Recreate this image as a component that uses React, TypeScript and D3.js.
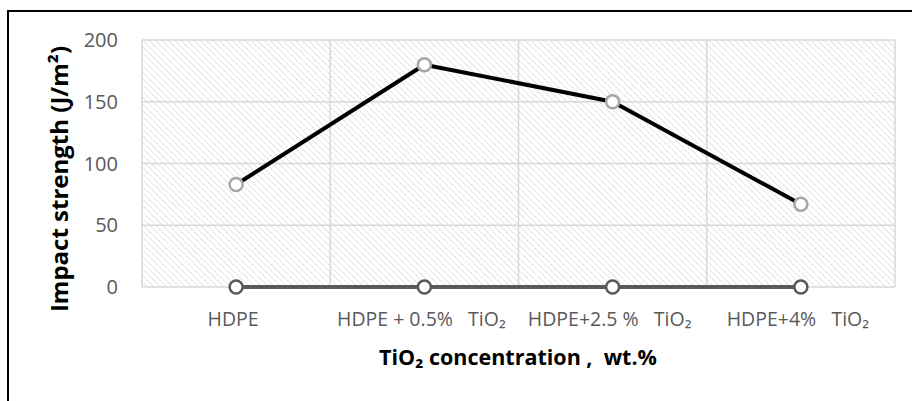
import React from "react";
import * as d3 from "d3";

const categories = ["HDPE", "HDPE + 0.5%   TiO₂", "HDPE+2.5 %   TiO₂", "HDPE+4%   TiO₂"];
const impactValues = [83, 180, 150, 67];
const zeroValues = [0, 0, 0, 0];
const yTicks = [0, 50, 100, 150, 200];

const W = 912;
const H = 401;
const plot = { left: 142, right: 895, top: 40, bottom: 287 };
const FONT = "'Open Sans', 'Noto Sans', sans-serif";

export default function App() {
  const x = d3.scaleBand<string>().domain(categories).range([plot.left, plot.right]).padding(0);
  const y = d3.scaleLinear().domain([0, 200]).range([plot.bottom, plot.top]);
  const cx = (c: string) => (x(c) as number) + x.bandwidth() / 2;
  const line = d3.line<number>().x((_, i) => cx(categories[i])).y((d) => y(d));

  return (
    <svg width={W} height={H} style={{ position: "absolute", left: 0, top: 0, background: "#fff", whiteSpace: "pre" }}>
      <defs>
        <pattern id="hatch" width="4.5" height="4.5" patternUnits="userSpaceOnUse" patternTransform="rotate(-45)">
          <rect width="4.5" height="4.5" fill="#ffffff" />
          <line x1="0" y1="0" x2="0" y2="4.5" stroke="#cfcfcf" strokeWidth="1.5" strokeDasharray="1.6 0.65" />
        </pattern>
      </defs>
      <rect x={8} y={11} width={940} height={420} fill="none" stroke="#000" strokeWidth={2} />
      <rect x={plot.left} y={plot.top} width={plot.right - plot.left} height={plot.bottom - plot.top} fill="url(#hatch)" />
      {yTicks.map((t) => (
        <line key={"h" + t} x1={plot.left} x2={plot.right} y1={y(t)} y2={y(t)} stroke="#d9d9d9" strokeWidth={1.5} />
      ))}
      {categories.map((c, i) => (
        <line key={"v" + i} x1={(x(c) as number)} x2={(x(c) as number)} y1={plot.top} y2={plot.bottom} stroke="#d9d9d9" strokeWidth={1.5} />
      ))}
      <line x1={plot.right} x2={plot.right} y1={plot.top} y2={plot.bottom} stroke="#d9d9d9" strokeWidth={1.5} />
      {yTicks.map((t) => (
        <text key={"yt" + t} x={118} y={y(t)} dy="0.36em" textAnchor="end" fontFamily={FONT} fontSize={20} fill="#595959">
          {t}
        </text>
      ))}
      {categories.map((c) => (
        <text key={"xl" + c} x={cx(c) - 3} y={326} textAnchor="middle" fontFamily={FONT} fontSize={19.5} fill="#595959" style={{ whiteSpace: "pre" }}>
          {c}
        </text>
      ))}
      <text
        transform={`translate(68, ${179}) rotate(-90)`}
        textAnchor="middle"
        fontFamily={FONT}
        fontSize={24}
        fontWeight="bold"
        fill="#000"
      >
        Impact strength (J/m²)
      </text>
      <text x={518} y={365} textAnchor="middle" fontFamily={FONT} fontSize={21.5} fontWeight="bold" fill="#000" style={{ whiteSpace: "pre" }}>
        {"TiO₂ concentration ,  wt.%"}
      </text>
      <path d={line(zeroValues) || ""} fill="none" stroke="#595959" strokeWidth={4} />
      {zeroValues.map((v, i) => (
        <circle key={"z" + i} cx={cx(categories[i])} cy={y(v)} r={6.5} fill="#fff" stroke="#595959" strokeWidth={2.5} />
      ))}
      <path d={line(impactValues) || ""} fill="none" stroke="#000" strokeWidth={4} strokeLinejoin="round" />
      {impactValues.map((v, i) => (
        <circle key={"p" + i} cx={cx(categories[i])} cy={y(v)} r={6.5} fill="#fff" stroke="#a6a6a6" strokeWidth={2.5} />
      ))}
    </svg>
  );
}
